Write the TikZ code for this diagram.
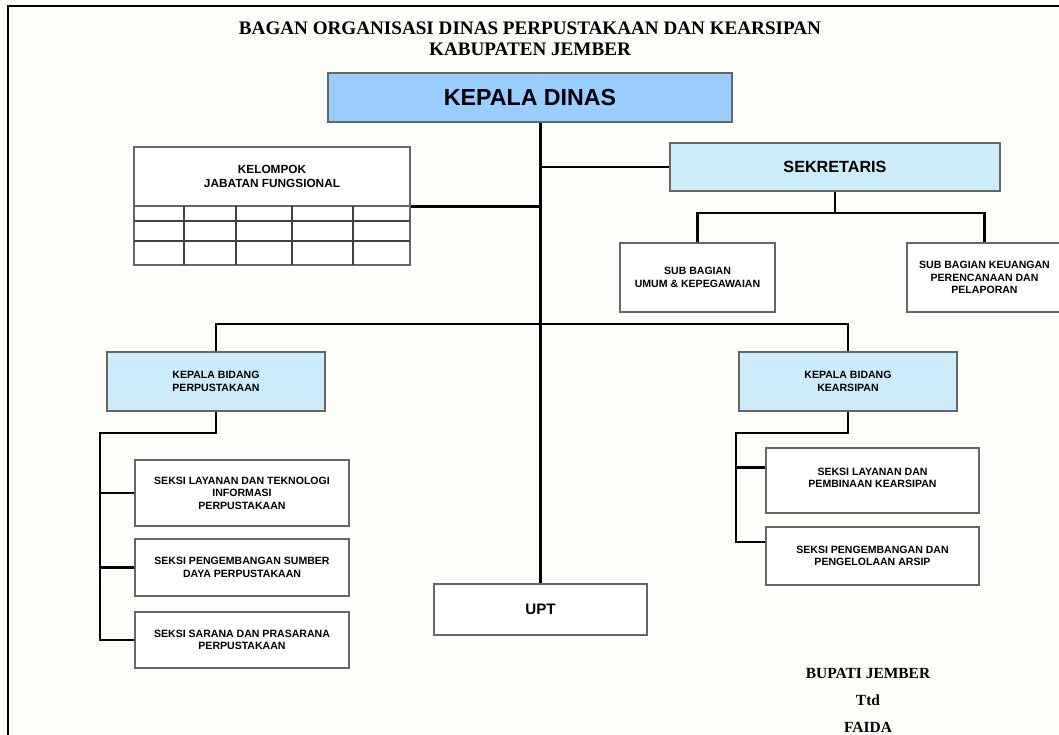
\documentclass[tikz,border=0pt]{standalone}
\usepackage{fontspec}
\setmainfont{Liberation Serif}
\setsansfont{Liberation Sans}
\usepackage{tikz}
\usetikzlibrary{positioning}

\definecolor{kadisblue}{HTML}{99CCFF}
\definecolor{paleblue}{HTML}{CCECFC}
\definecolor{paper}{HTML}{FCFDF8}

\tikzset{
  unitbox/.style={draw=black!60, line width=1.1pt, fill=white, align=center, inner sep=0pt,
    font=\sffamily\bfseries\fontsize{7.5}{8.8}\selectfont},
  bluebox/.style={unitbox, fill=paleblue},
  link/.style={line width=2pt, black},
  gridline/.style={line width=0.8pt, black!75}
}

\begin{document}
\begin{tikzpicture}[x=0.025cm, y=-0.025cm]
%%Location
\useasboundingbox (0,0) rectangle (1059,735);
\fill[paper] (0,0) rectangle (1059,735);
\draw[line width=1.3pt] (8,745) -- (8,6) -- (1070,6);

%%Title
\node[font=\bfseries\fontsize{13.6}{15}\selectfont, align=center] (judul) at (530,39)
  {BAGAN ORGANISASI DINAS PERPUSTAKAAN DAN KEARSIPAN\\KABUPATEN JEMBER};

%%Top
\node[unitbox, fill=kadisblue, minimum width=10.1cm, minimum height=1.225cm,
  font=\sffamily\bfseries\fontsize{16.5}{18}\selectfont] (kadis) at (530,97.5) {KEPALA DINAS};

\node[unitbox, minimum width=6.9cm, minimum height=1.475cm,
  font=\sffamily\bfseries\fontsize{8.4}{10.2}\selectfont] (jabfung) at (272,176.5)
  {KELOMPOK\\JABATAN FUNGSIONAL};
\draw[unitbox] (134,206) rectangle (410,265);
\foreach \y in {221,241} \draw[gridline] (134,\y) -- (410,\y);
\foreach \x in {184,236,292,353} \draw[gridline] (\x,206) -- (\x,265);

\node[bluebox, minimum width=8.25cm, minimum height=1.2cm,
  font=\sffamily\bfseries\fontsize{11.5}{13}\selectfont] (sekretaris) at (835,167) {SEKRETARIS};
\node[unitbox, minimum width=3.875cm, minimum height=1.725cm] (subumum) at (697.5,277.5)
  {SUB BAGIAN\\UMUM \& KEPEGAWAIAN};
\node[unitbox, minimum width=3.875cm, minimum height=1.725cm] (subkeu) at (984.5,277.5)
  {SUB BAGIAN KEUANGAN\\PERENCANAAN DAN\\PELAPORAN};

%%Bidang
\node[bluebox, minimum width=5.45cm, minimum height=1.475cm] (kabidpus) at (216,381.5)
  {KEPALA BIDANG\\PERPUSTAKAAN};
\node[bluebox, minimum width=5.45cm, minimum height=1.475cm] (kabidars) at (848,381.5)
  {KEPALA BIDANG\\KEARSIPAN};

\node[unitbox, minimum width=5.35cm, minimum height=1.65cm] (seksi1) at (242,493)
  {SEKSI LAYANAN DAN TEKNOLOGI\\INFORMASI\\PERPUSTAKAAN};
\node[unitbox, minimum width=5.35cm, minimum height=1.425cm] (seksi2) at (242,567.5)
  {SEKSI PENGEMBANGAN SUMBER\\DAYA PERPUSTAKAAN};
\node[unitbox, minimum width=5.35cm, minimum height=1.4cm] (seksi3) at (242,640)
  {SEKSI SARANA DAN PRASARANA\\PERPUSTAKAAN};

\node[unitbox, minimum width=5.325cm, minimum height=1.625cm, text depth=4pt] (seksiA) at (872.5,480.5)
  {SEKSI LAYANAN DAN\\PEMBINAAN KEARSIPAN};
\node[unitbox, minimum width=5.325cm, minimum height=1.45cm] (seksiB) at (872.5,556)
  {SEKSI PENGEMBANGAN DAN\\PENGELOLAAN ARSIP};

\node[unitbox, minimum width=5.325cm, minimum height=1.275cm,
  font=\sffamily\bfseries\fontsize{10.8}{12}\selectfont] (upt) at (540.5,609.5) {UPT};

%%Signature
\node[font=\bfseries\fontsize{11}{19.2}\selectfont, align=center] (bupati) at (868,700)
  {BUPATI JEMBER\\Ttd\\FAIDA};

%%Lines
\coordinate (sekbus) at (835,213);
\coordinate (midbus) at (540,324);
\coordinate (puspine) at (100,433);
\coordinate (arspine) at (736,433);

\draw[link] (upt.north) -- (upt.north |- kadis.south);
\draw[link] (jabfung.south east) -- (jabfung.south east -| upt.north);
\draw[link] (sekretaris.west) -- (sekretaris.west -| upt.north);
\draw[link] (sekretaris.south) -- (sekbus);
\draw[link] (subumum.north) |- (sekbus) -| (subkeu.north);
\draw[link] (kabidpus.north) |- (midbus) -| (kabidars.north);

\draw[link] (kabidpus.south) |- (puspine) |- (seksi3.west);
\draw[link] (seksi1.west) -- (seksi1.west -| puspine);
\draw[link] (seksi2.west) -- (seksi2.west -| puspine);

\draw[link] (kabidars.south) |- (arspine) |- ([yshift=10pt]seksiB.west);
\draw[link] ([yshift=9pt]seksiA.west) -- ([yshift=9pt]seksiA.west -| arspine);

\end{tikzpicture}
\end{document}
